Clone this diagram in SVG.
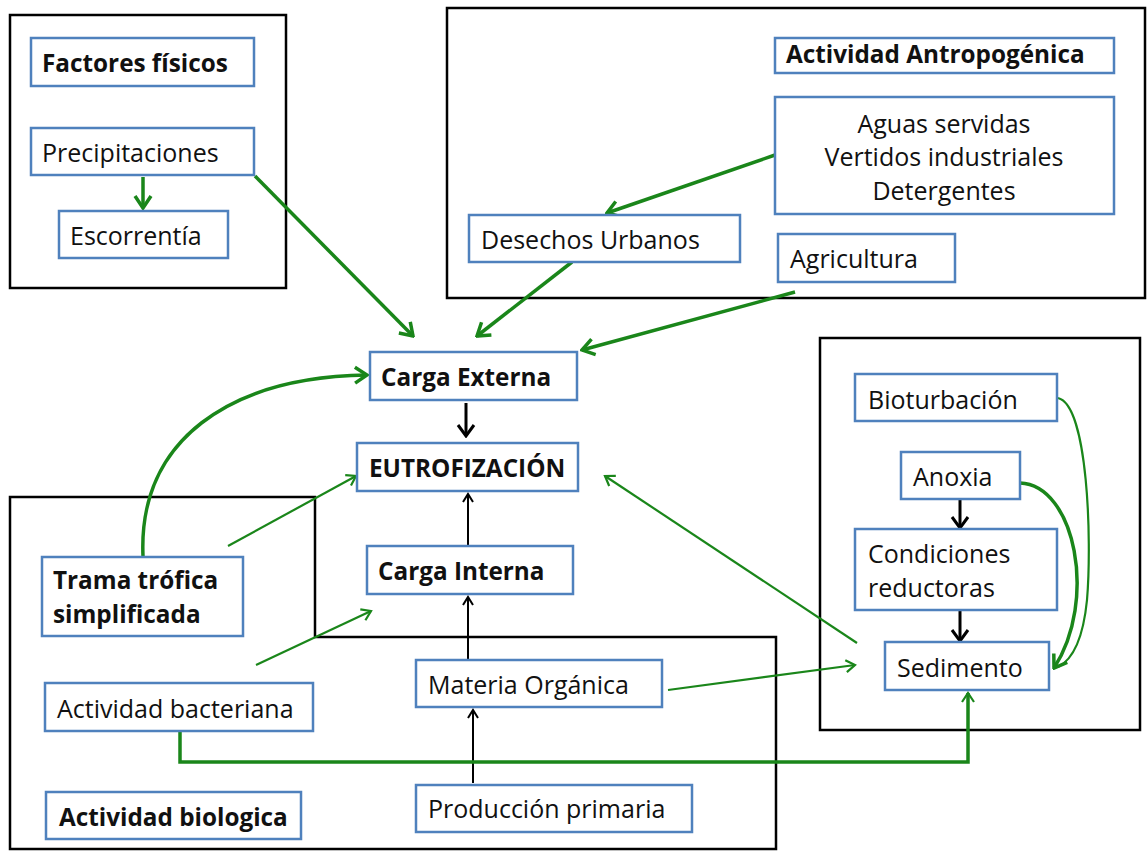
<svg xmlns="http://www.w3.org/2000/svg" width="1148" height="851" viewBox="0 0 1148 851">
<style>
.ctr{fill:none;stroke:#000;stroke-width:2.5}
.nd{fill:#fff;stroke:#4f81bd;stroke-width:2.5}
.t{font-family:"Open Sans","Liberation Sans",sans-serif;font-size:25px;fill:#111}
.b{font-family:"Open Sans","Liberation Sans",sans-serif;font-size:24.3px;font-weight:bold;fill:#111}
.gk{fill:none;stroke:#1a861a;stroke-width:3.5}
.gn{fill:none;stroke:#1a861a;stroke-width:2.2}
.bk{fill:none;stroke:#000;stroke-width:3}
.bn{fill:none;stroke:#000;stroke-width:2}
</style>
<defs>
<marker id="agk" markerUnits="userSpaceOnUse" viewBox="0 0 20 20" refX="18" refY="10" markerWidth="20" markerHeight="20" orient="auto"><path d="M6,2 L18,10 L6,18" fill="none" stroke="#1a861a" stroke-width="3.5"/></marker>
<marker id="agn" markerUnits="userSpaceOnUse" viewBox="0 0 16 16" refX="14" refY="8" markerWidth="16" markerHeight="16" orient="auto"><path d="M5,2 L14,8 L5,14" fill="none" stroke="#1a861a" stroke-width="2.2"/></marker>
<marker id="abk" markerUnits="userSpaceOnUse" viewBox="0 0 20 20" refX="18" refY="10" markerWidth="20" markerHeight="20" orient="auto"><path d="M7,2 L18,10 L7,18" fill="none" stroke="#000" stroke-width="3"/></marker>
<marker id="abn" markerUnits="userSpaceOnUse" viewBox="0 0 16 16" refX="14" refY="8" markerWidth="16" markerHeight="16" orient="auto"><path d="M6,3 L14,8 L6,13" fill="none" stroke="#000" stroke-width="2"/></marker>
</defs>
<rect width="1148" height="851" fill="#fff"/>
<g id="containers">
<rect id="box-factores" class="ctr" x="10" y="15" width="276" height="273"/>
<rect id="box-antropogenica" class="ctr" x="447" y="8" width="698" height="290"/>
<rect id="box-sedimento" class="ctr" x="820" y="338" width="320" height="392"/>
<path id="box-biologica" class="ctr" d="M776,849 L776,637 L315,637 L315,497 L10,497 L10,849 Z"/>
</g>
<g id="connectors">
<path class="gk" d="M143,177 L143,208" marker-end="url(#agk)"/>
<path class="gk" d="M255,176 L413,336" marker-end="url(#agk)"/>
<path class="gk" d="M775,155 L607,213" marker-end="url(#agk)"/>
<path class="gk" d="M572,262 L477,336" marker-end="url(#agk)"/>
<path class="gk" d="M795,292 L582,350" marker-end="url(#agk)"/>
<path class="bk" d="M466,403 L466,436" marker-end="url(#abk)"/>
<path class="bn" d="M468,546 L468,494" marker-end="url(#abn)"/>
<path class="bn" d="M468,660 L468,597" marker-end="url(#abn)"/>
<path class="bn" d="M473,783 L473,710" marker-end="url(#abn)"/>
<path class="gk" d="M143,556 C138,440 230,377 367,375" marker-end="url(#agk)"/>
<path class="gn" d="M228,546 L356,476" marker-end="url(#agn)"/>
<path class="gn" d="M256,665 L371,611" marker-end="url(#agn)"/>
<path class="gn" d="M857,643 L605,476" marker-end="url(#agn)"/>
<path class="gn" d="M668,690 L855,665" marker-end="url(#agn)"/>
<path class="gk" d="M180,732 L180,762 L968,762 L968,693" marker-end="url(#agn)"/>
<path class="bk" d="M960,500 L960,528" marker-end="url(#abk)"/>
<path class="bk" d="M960,611 L960,641" marker-end="url(#abk)"/>
<path class="gn" d="M1058,398 C1088,405 1092,540 1087,600 C1083,640 1072,660 1058,667"/>
<path class="gk" d="M1020,483 C1075,485 1098,600 1054,668" marker-end="url(#agk)"/>
</g>
<g id="n-factores"><rect class="nd" x="31" y="38" width="223" height="48"/><text class="b" x="42" y="72">Factores físicos</text></g>
<g id="n-precipitaciones"><rect class="nd" x="31" y="128" width="223" height="47"/><text class="t" x="42" y="162">Precipitaciones</text></g>
<g id="n-escorrentia"><rect class="nd" x="59" y="211" width="169" height="47"/><text class="t" x="70" y="245">Escorrentía</text></g>
<g id="n-antropogenica"><rect class="nd" x="775" y="38" width="339" height="35"/><text class="b" x="786" y="63">Actividad Antropogénica</text></g>
<g id="n-aguas"><rect class="nd" x="775" y="97" width="339" height="117"/><text class="t" text-anchor="middle" x="944" y="133">Aguas servidas</text><text class="t" text-anchor="middle" x="944" y="166">Vertidos industriales</text><text class="t" text-anchor="middle" x="944" y="200">Detergentes</text></g>
<g id="n-desechos"><rect class="nd" x="469" y="215" width="271" height="47"/><text class="t" x="481" y="249">Desechos Urbanos</text></g>
<g id="n-agricultura"><rect class="nd" x="778" y="234" width="177" height="48"/><text class="t" x="790" y="268">Agricultura</text></g>
<g id="n-carga-externa"><rect class="nd" x="370" y="352" width="207" height="48"/><text class="b" x="381" y="386">Carga Externa</text></g>
<g id="n-eutrofizacion"><rect class="nd" x="357" y="443" width="221" height="48"/><text class="b" x="369" y="477">EUTROFIZACIÓN</text></g>
<g id="n-carga-interna"><rect class="nd" x="367" y="546" width="206" height="48"/><text class="b" x="378" y="580">Carga Interna</text></g>
<g id="n-trama"><rect class="nd" x="42" y="557" width="201" height="79"/><text class="b" x="53" y="589">Trama trófica</text><text class="b" x="53" y="623">simplificada</text></g>
<g id="n-materia"><rect class="nd" x="416" y="660" width="246" height="47"/><text class="t" x="428" y="694">Materia Orgánica</text></g>
<g id="n-bacteriana"><rect class="nd" x="45" y="683" width="268" height="48"/><text class="t" x="57" y="718">Actividad bacteriana</text></g>
<g id="n-biologica"><rect class="nd" x="46" y="792" width="255" height="47"/><text class="b" x="59" y="826">Actividad biologica</text></g>
<g id="n-produccion"><rect class="nd" x="416" y="785" width="276" height="47"/><text class="t" x="428" y="818">Producción primaria</text></g>
<g id="n-bioturbacion"><rect class="nd" x="855" y="374" width="202" height="47"/><text class="t" x="868" y="409">Bioturbación</text></g>
<g id="n-anoxia"><rect class="nd" x="901" y="452" width="119" height="47"/><text class="t" x="913" y="486">Anoxia</text></g>
<g id="n-condiciones"><rect class="nd" x="855" y="529" width="202" height="81"/><text class="t" x="868" y="563">Condiciones</text><text class="t" x="868" y="597">reductoras</text></g>
<g id="n-sedimento"><rect class="nd" x="885" y="642" width="164" height="48"/><text class="t" x="897" y="677">Sedimento</text></g>
</svg>
